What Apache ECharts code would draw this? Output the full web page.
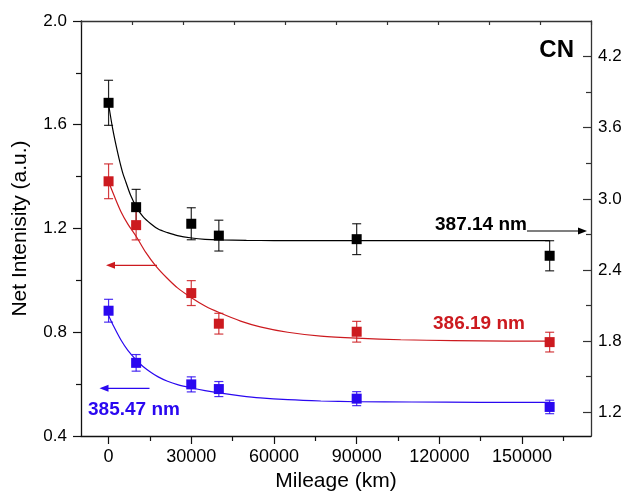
<!DOCTYPE html>
<html>
<head>
<meta charset="utf-8">
<script src="https://cdn.jsdelivr.net/npm/echarts@6/dist/echarts.min.js"></script>
<style>html,body{margin:0;padding:0;background:#fff}#c{width:627px;height:497px}</style>
</head>
<body>
<div id="c"></div>
<script>
// ---- data ----
const mileage = [0, 10000, 30000, 40000, 90000, 160000];
// 387.14 nm (right axis)
const cn387 = [3.81, 2.93, 2.79, 2.69, 2.66, 2.52];
const err387 = [0.19, 0.15, 0.135, 0.13, 0.13, 0.127];
// 386.19 nm (left axis)
const cn386 = [1.382, 1.213, 0.951, 0.833, 0.802, 0.762];
const err386 = [0.067, 0.057, 0.048, 0.04, 0.04, 0.038];
// 385.47 nm (left axis)
const cn385 = [0.883, 0.682, 0.599, 0.581, 0.544, 0.512];
const err385 = [0.044, 0.032, 0.029, 0.029, 0.027, 0.026];

// fitted curves, points
const fit387X = [0, 1500, 3300, 5000, 6300, 8000, 10100, 12500, 15300, 18000, 21400, 25000, 30200, 35000, 40100, 50000, 60000, 80000, 100000, 130000, 160000];
const fit387Y = [3.80, 3.59, 3.39, 3.23, 3.14, 3.03, 2.93, 2.85, 2.79, 2.745, 2.715, 2.69, 2.670, 2.659, 2.654, 2.650, 2.648, 2.648, 2.648, 2.648, 2.648];
const fit386X = [0, 2000, 4500, 7000, 10100, 13500, 17100, 21000, 25000, 30200, 35000, 40100, 47900, 55000, 65000, 77000, 90000, 106000, 125000, 145000, 160000];
const fit386Y = [1.38, 1.327, 1.265, 1.217, 1.168, 1.108, 1.056, 1.011, 0.971, 0.932, 0.901, 0.876, 0.843, 0.821, 0.800, 0.785, 0.777, 0.771, 0.768, 0.766, 0.766];
const fit385X = [0, 2000, 4500, 7000, 10100, 12500, 15300, 18000, 21400, 25000, 30200, 35000, 40100, 47900, 55000, 65000, 77000, 90000, 110000, 135000, 160000];
const fit385Y = [0.865, 0.820, 0.770, 0.730, 0.692, 0.668, 0.646, 0.628, 0.611, 0.598, 0.585, 0.575, 0.566, 0.555, 0.547, 0.540, 0.535, 0.532, 0.531, 0.530, 0.530];

// axis ticks
const xMajorTicks = [0, 30000, 60000, 90000, 120000, 150000];
const xMinorTicks = [15000, 45000, 75000, 105000, 135000, 165000];
const rightMajorTicks = [1.2, 1.8, 2.4, 3.0, 3.6, 4.2];
const rightMinorTicks = [1.5, 2.1, 2.7, 3.3, 3.9];

// ---- chart ----
const FONT = 'Liberation Sans';
const BLACK = '#000000', RED = '#cc1a1f', BLUE = '#2a08f0';
const chart = echarts.init(document.getElementById('c'), null, {renderer: 'canvas'});

function pairs(xs, ys) { return xs.map((x, i) => [x, ys[i]]); }
function errData(vals, errs) { return mileage.map((m, i) => [m, vals[i], errs[i]]); }

function errSeries(vals, errs, color, yIdx) {
  return {
    type: 'custom', xAxisIndex: 0, yAxisIndex: yIdx, silent: true, z: 3,
    encode: {x: 0, y: 1},
    data: errData(vals, errs),
    renderItem: function (params, api) {
      const x = api.value(0), y = api.value(1), e = api.value(2);
      const t = api.coord([x, y + e]);
      const b = api.coord([x, y - e]);
      const hw = 4.5;
      const st = {stroke: color, lineWidth: 1.2, opacity: 0.85};
      return {type: 'group', children: [
        {type: 'line', shape: {x1: t[0], y1: t[1], x2: b[0], y2: b[1]}, style: st},
        {type: 'line', shape: {x1: t[0] - hw, y1: t[1], x2: t[0] + hw, y2: t[1]}, style: st},
        {type: 'line', shape: {x1: b[0] - hw, y1: b[1], x2: b[0] + hw, y2: b[1]}, style: st}
      ]};
    }
  };
}
function fitSeries(xs, ys, color, yIdx) {
  return {type: 'line', xAxisIndex: 0, yAxisIndex: yIdx, data: pairs(xs, ys), smooth: 0.3,
    showSymbol: false, symbol: 'none', silent: true, z: 2,
    lineStyle: {color: color, width: 1.2}};
}
function ptSeries(vals, color, yIdx) {
  return {type: 'scatter', xAxisIndex: 0, yAxisIndex: yIdx, data: pairs(mileage, vals),
    symbol: 'rect', symbolSize: 10, itemStyle: {color: color, opacity: 1}, silent: true, z: 4};
}

const labelStyle = {fontFamily: FONT, color: '#000'};

const option = {
  animation: false,
  backgroundColor: '#fff',
  grid: {left: 81, right: 36, top: 21, bottom: 61, containLabel: false, outerBoundsMode: 'none'},
  xAxis: [
    {
      type: 'value', position: 'bottom', min: -10000, max: 175000,
      name: 'Mileage (km)', nameLocation: 'middle', nameGap: 35,
      nameTextStyle: {fontFamily: FONT, fontSize: 21, color: '#000'},
      axisLine: {show: true, onZero: false, lineStyle: {color: '#111', width: 1.3}},
      axisTick: {show: true, inside: false, length: 8, customValues: xMajorTicks, lineStyle: {color: '#111', width: 1.2}},
      axisLabel: {show: true, customValues: xMajorTicks, margin: 12, fontSize: 18, ...labelStyle, formatter: v => String(v)},
      splitLine: {show: false}
    },
    {
      type: 'value', position: 'top', min: 0, max: 10, interval: 1,
      axisLine: {show: true, onZero: false, lineStyle: {color: '#333', width: 1.3}},
      axisTick: {show: true, inside: true, length: 4, lineStyle: {color: '#333', width: 1.2}},
      axisLabel: {show: false}, splitLine: {show: false}
    },
    {
      type: 'value', position: 'bottom', min: -10000, max: 175000,
      axisLine: {show: false, onZero: false},
      axisTick: {show: true, inside: false, length: 5, customValues: xMinorTicks, lineStyle: {color: '#111', width: 1.2}},
      axisLabel: {show: false}, splitLine: {show: false}
    }
  ],
  yAxis: [
    {
      type: 'value', position: 'left', min: 0.4, max: 2.0, interval: 0.4,
      name: 'Net Intenisity (a.u.)', nameLocation: 'middle', nameGap: 50,
      nameTextStyle: {fontFamily: FONT, fontSize: 21, color: '#000'},
      axisLine: {show: true, onZero: false, lineStyle: {color: '#111', width: 1.3}},
      axisTick: {show: true, inside: false, length: 8, lineStyle: {color: '#111', width: 1.2}},
      minorTick: {show: true, splitNumber: 2, length: 5, lineStyle: {color: '#111', width: 1.2}},
      axisLabel: {show: true, margin: 14, fontSize: 17, ...labelStyle, formatter: v => v.toFixed(1)},
      splitLine: {show: false}, minorSplitLine: {show: false}
    },
    {
      type: 'value', position: 'right', min: 1.0, max: 4.5,
      axisLine: {show: true, onZero: false, lineStyle: {color: '#333', width: 1.3}},
      axisTick: {show: true, inside: true, length: 8, customValues: rightMajorTicks, lineStyle: {color: '#333', width: 1.2}},
      axisLabel: {show: true, customValues: rightMajorTicks, margin: 7, fontSize: 17, ...labelStyle, formatter: v => v.toFixed(1)},
      splitLine: {show: false}
    },
    {
      type: 'value', position: 'right', min: 1.0, max: 4.5,
      axisLine: {show: false, onZero: false},
      axisTick: {show: true, inside: true, length: 5, customValues: rightMinorTicks, lineStyle: {color: '#333', width: 1.2}},
      axisLabel: {show: false}, splitLine: {show: false}
    }
  ],
  series: [
    fitSeries(fit387X, fit387Y, BLACK, 1),
    fitSeries(fit386X, fit386Y, RED, 0),
    fitSeries(fit385X, fit385Y, BLUE, 0),
    errSeries(cn387, err387, BLACK, 1),
    errSeries(cn386, err386, RED, 0),
    errSeries(cn385, err385, BLUE, 0),
    ptSeries(cn387, BLACK, 1),
    ptSeries(cn386, RED, 0),
    ptSeries(cn385, BLUE, 0)
  ],
  graphic: [
    {type: 'text', right: 53, top: 38, style: {text: 'CN', font: 'bold 24px "Liberation Sans"', fill: '#000'}},
    {type: 'text', left: 435, top: 215, style: {text: '387.14 nm', font: 'bold 19px "Liberation Sans"', fill: BLACK}},
    {type: 'text', left: 433, top: 314, style: {text: '386.19 nm', font: 'bold 19px "Liberation Sans"', fill: RED}},
    {type: 'text', left: 88, top: 400, style: {text: '385.47 nm', font: 'bold 19px "Liberation Sans"', fill: BLUE}},
    // arrows
    {type: 'line', shape: {x1: 527, y1: 231, x2: 580, y2: 231}, style: {stroke: BLACK, lineWidth: 1.2}},
    {type: 'polygon', shape: {points: [[587, 231], [578, 227.5], [578, 234.5]]}, style: {fill: BLACK}},
    {type: 'line', shape: {x1: 157, y1: 265.3, x2: 113, y2: 265.3}, style: {stroke: RED, lineWidth: 1.2}},
    {type: 'polygon', shape: {points: [[106, 265.3], [115, 261.8], [115, 268.8]]}, style: {fill: RED}},
    {type: 'line', shape: {x1: 149.5, y1: 388.3, x2: 107, y2: 388.3}, style: {stroke: BLUE, lineWidth: 1.2}},
    {type: 'polygon', shape: {points: [[99.5, 388.3], [108.5, 384.8], [108.5, 391.8]]}, style: {fill: BLUE}}
  ]
};
chart.setOption(option);
</script>
</body>
</html>
